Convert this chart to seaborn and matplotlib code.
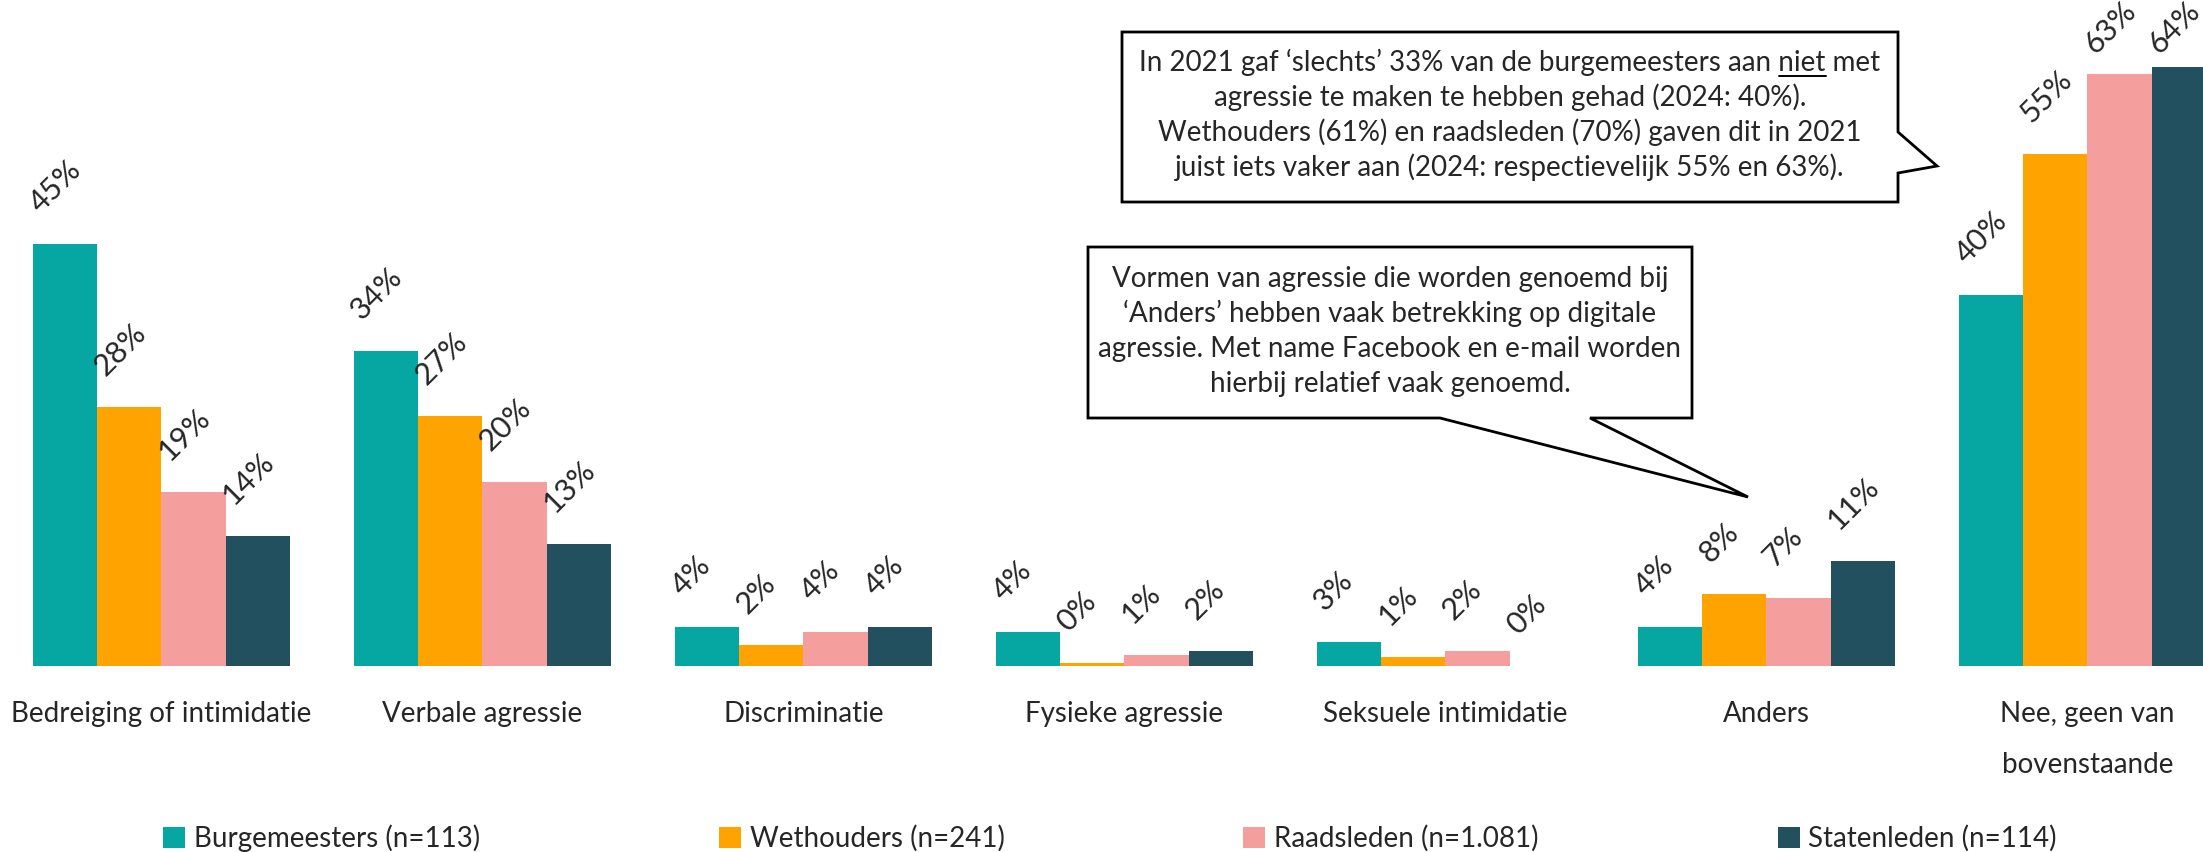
import matplotlib
matplotlib.use("Agg")
import matplotlib.pyplot as plt
import seaborn as sns
import pandas as pd
from matplotlib.patches import Polygon
from matplotlib.lines import Line2D

# categories and series
categories = ["Bedreiging of intimidatie", "Verbale agressie", "Discriminatie",
              "Fysieke agressie", "Seksuele intimidatie", "Anders",
              "Nee, geen van\nbovenstaande"]
groups = ["Burgemeesters (n=113)", "Wethouders (n=241)",
          "Raadsleden (n=1.081)", "Statenleden (n=114)"]
burgemeesters = [45.0, 33.6, 4.2, 3.6, 2.6, 4.2, 39.6]
wethouders = [27.6, 26.6, 2.2, 0.3, 1.0, 7.7, 54.6]
raadsleden = [18.6, 19.6, 3.6, 1.2, 1.6, 7.3, 63.1]
statenleden = [13.9, 13.0, 4.2, 1.6, 0.0, 11.2, 63.9]
colors = ["#06A7A2", "#FFA300", "#F49F9E", "#22505F"]

note_1 = ["In 2021 gaf \u2018slechts\u2019 33% van de burgemeesters aan niet met",
          "agressie te maken te hebben gehad (2024: 40%).",
          "Wethouders (61%) en raadsleden (70%) gaven dit in 2021",
          "juist iets vaker aan (2024: respectievelijk 55% en 63%)."]
note_2 = ["Vormen van agressie die worden genoemd bij",
          "\u2018Anders\u2019 hebben vaak betrekking op digitale",
          "agressie. Met name Facebook en e-mail worden",
          "hierbij relatief vaak genoemd."]

rows = []
for g, vals in zip(groups, [burgemeesters, wethouders, raadsleden, statenleden]):
    for c, v in zip(categories, vals):
        rows.append({"categorie": c, "groep": g, "pct": v})
df = pd.DataFrame(rows)

sns.set_style("white")
plt.rcParams["font.family"] = ["Lato", "DejaVu Sans"]

W, H = 2203, 852
FS = 20
fig = plt.figure(figsize=(W / 100, H / 100), dpi=100)
ax = fig.add_axes([0, 1 - 666 / H, 1, 666 / H])

sns.barplot(data=df, x="categorie", y="pct", hue="groep", hue_order=groups,
            palette=colors, saturation=1, width=0.8, linewidth=0, ax=ax)

ax.set_xlim(-0.503, 6.36)
ax.set_ylim(0, 71.0)
ax.set_yticks([])
ax.set_xlabel("")
ax.set_ylabel("")
for s in ax.spines.values():
    s.set_visible(False)
ax.tick_params(axis="x", length=0, pad=25, labelsize=FS)
for t in ax.get_xticklabels():
    t.set_linespacing(2.2)

# value labels, rotated; pushed down a bit when they would run off the top
for cont in ax.containers:
    for bar in cont:
        h = bar.get_height()
        top_px = ax.transData.transform((0, h))[1]
        dy = min(30, (H - 55) - top_px)
        ax.annotate(f"{round(h)}%", xy=(bar.get_x(), h), xytext=(8, dy),
                    textcoords="offset pixels", rotation=45, rotation_mode="anchor",
                    ha="left", va="baseline", fontsize=22)

handles, labels = ax.get_legend_handles_labels()
ax.legend_.remove()
fig.legend(handles, labels, loc="lower left", bbox_to_anchor=(163 / W, 0.0),
           ncol=4, frameon=False, fontsize=FS, handlelength=0.79, handleheight=0.79,
           handletextpad=0.32, columnspacing=8.6, borderpad=0, borderaxespad=0)


# speech bubbles
def bubble(points):
    poly = Polygon([(x / W, 1 - y / H) for x, y in points], closed=True,
                   transform=fig.transFigure, facecolor="white",
                   edgecolor="black", linewidth=2, zorder=5)
    fig.add_artist(poly)


bubble([(1122, 32), (1898, 32), (1898, 132), (1937, 166), (1898, 173),
        (1898, 202), (1122, 202)])
bubble([(1088, 247), (1692, 247), (1692, 418), (1590, 418), (1748, 497),
        (1440, 418), (1088, 418)])

texts_1 = []
for i, line in enumerate(note_1):
    texts_1.append(fig.text(1510 / W, 1 - (71 + 35 * i) / H, line, ha="center",
                            va="baseline", fontsize=FS, zorder=6))
for i, line in enumerate(note_2):
    fig.text(1390 / W, 1 - (287 + 35 * i) / H, line, ha="center",
             va="baseline", fontsize=FS, zorder=6)

# underline "niet" in the first line
renderer = fig.canvas.get_renderer()
bb = texts_1[0].get_window_extent(renderer)
tmp = fig.text(0, 0, note_1[0].split(" niet")[0] + " niet", fontsize=FS)
w_pre = tmp.get_window_extent(renderer).width
tmp.remove()
tmp = fig.text(0, 0, "niet", fontsize=FS)
w_niet = tmp.get_window_extent(renderer).width
tmp.remove()
x1 = bb.x0 + w_pre - w_niet
x2 = bb.x0 + w_pre
yu = H - 76
fig.add_artist(Line2D([x1 / W, x2 / W], [yu / H, yu / H], transform=fig.transFigure,
                      color="black", linewidth=1.4, zorder=7))

fig.savefig("out.png", dpi=100)
